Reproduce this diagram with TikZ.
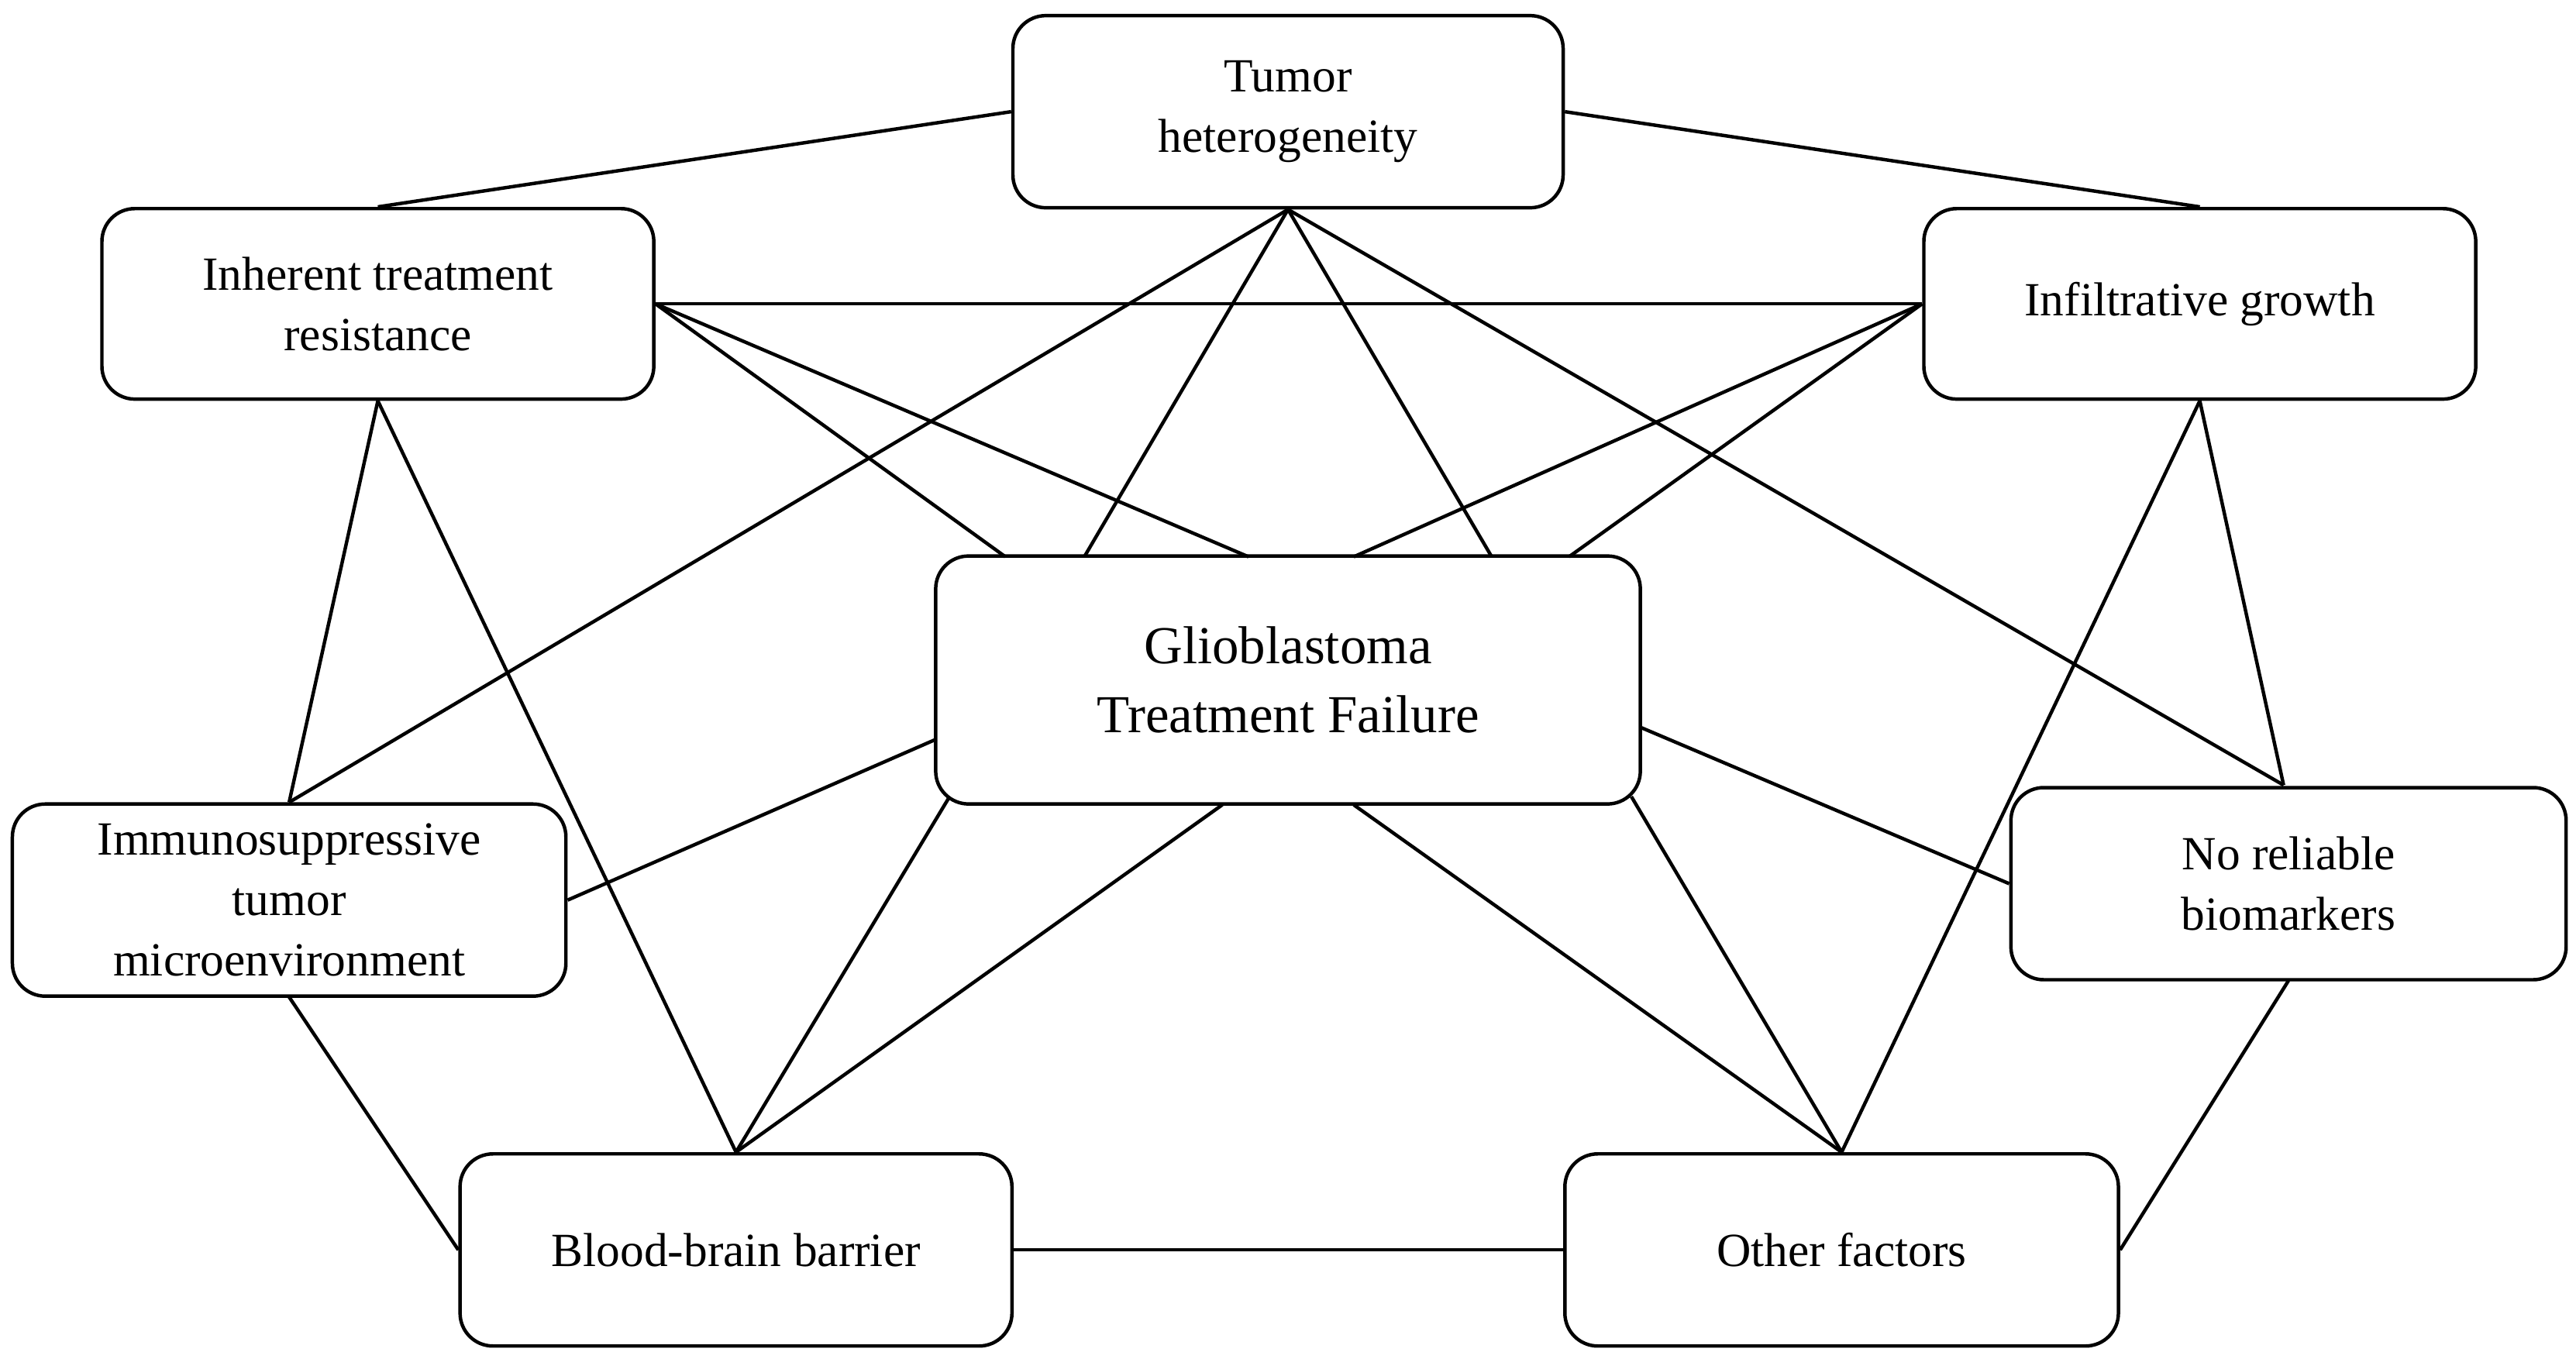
\documentclass[tikz,border=0pt]{standalone}
\usepackage{fontspec}
\setmainfont{Liberation Serif}
\begin{document}
\begin{tikzpicture}[x=0.02cm,y=-0.02cm,
  box/.style={draw,line width=1.2pt,rounded corners=0.4cm,align=center,inner sep=0pt,font=\fontsize{16.5}{21}\selectfont},
  ln/.style={line width=1.2pt}]
\useasboundingbox (0,0) rectangle (1568,827);
\node[box,minimum width=335\pgflinewidth*0+6.7cm,minimum height=2.34cm] (t) at (784,68) {Tumor\\heterogeneity};
\node[box,minimum width=6.72cm,minimum height=2.32cm] (ir) at (230,185) {Inherent treatment\\resistance};
\node[box,minimum width=6.72cm,minimum height=2.32cm] (ig) at (1339,185) {Infiltrative growth};
\node[box,minimum width=8.58cm,minimum height=3.02cm,font=\fontsize{18.5}{24}\selectfont] (c) at (784,414) {Glioblastoma\\Treatment Failure};
\node[box,minimum width=6.74cm,minimum height=2.34cm] (im) at (176,548) {Immunosuppressive\\tumor\\microenvironment};
\node[box,minimum width=6.76cm,minimum height=2.34cm] (nr) at (1393,538) {No reliable\\biomarkers};
\node[box,minimum width=6.72cm,minimum height=2.34cm] (bb) at (448,761) {Blood-brain barrier};
\node[box,minimum width=6.74cm,minimum height=2.34cm] (of) at (1121,761) {Other factors};
\coordinate (c1) at (660,339); \coordinate (c2) at (908,339);
\coordinate (c3) at (612,339); \coordinate (c4) at (760,339);
\coordinate (c5) at (824,339); \coordinate (c6) at (955,339);
\coordinate (cl) at (570,450); \coordinate (cr) at (999,443);
\coordinate (b1) at (578,485); \coordinate (b2) at (744,490);
\coordinate (b3) at (824,490); \coordinate (b4) at (993,485);
\coordinate (nt) at (1390,478);
\coordinate (ib) at (176,607); \coordinate (nb) at (1393,597);
\begin{scope}[ln]
\draw (t.west) -- (ir.north); \draw (t.east) -- (ig.north);
\draw (ir.east) -- (ig.west);
\draw (t.south) -- (im.north); \draw (t.south) -- (c1); \draw (t.south) -- (c2); \draw (t.south) -- (nt);
\draw (ir.east) -- (c3); \draw (ir.east) -- (c4);
\draw (ig.west) -- (c5); \draw (ig.west) -- (c6);
\draw (ir.south) -- (im.north); \draw (ir.south) -- (bb.north);
\draw (ig.south) -- (nt); \draw (ig.south) -- (of.north);
\draw (cl) -- (im.east); \draw (cr) -- (nr.west);
\draw (b1) -- (bb.north); \draw (b2) -- (bb.north);
\draw (b3) -- (of.north); \draw (b4) -- (of.north);
\draw (ib) -- (bb.west); \draw (nb) -- (of.east);
\draw (bb.east) -- (of.west);
\end{scope}
\end{tikzpicture}
\end{document}
